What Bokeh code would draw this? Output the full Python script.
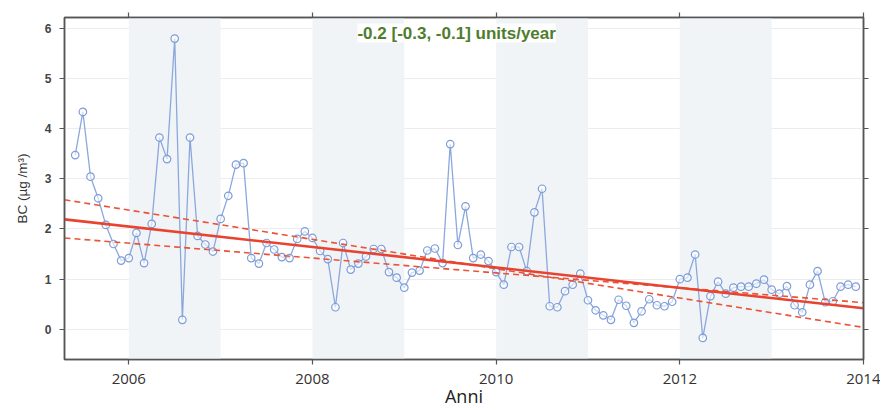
import numpy as np
from bokeh.plotting import figure
from bokeh.models import (Range1d, LinearAxis, FixedTicker, BoxAnnotation, Label)
from bokeh.embed import file_html
from bokeh.resources import INLINE

# ---- data (monthly BC, June 2005 .. December 2013) ----
start_year = 2005
start_month = 6  # June
bc_values = [
    3.47, 4.33, 3.04, 2.61, 2.08, 1.70, 1.37,
    1.42, 1.92, 1.32, 2.10, 3.82, 3.39, 5.79, 0.19, 3.82, 1.86, 1.69, 1.55,
    2.20, 2.66, 3.28, 3.31, 1.42, 1.31, 1.72, 1.59, 1.44, 1.42, 1.80, 1.95,
    1.82, 1.56, 1.40, 0.44, 1.72, 1.19, 1.31, 1.45, 1.60, 1.60, 1.14, 1.03,
    0.83, 1.13, 1.17, 1.57, 1.61, 1.32, 3.69, 1.68, 2.45, 1.42, 1.49, 1.36,
    1.14, 0.89, 1.64, 1.64, 1.16, 2.33, 2.80, 0.46, 0.44, 0.76, 0.89, 1.11,
    0.58, 0.38, 0.28, 0.19, 0.59, 0.47, 0.13, 0.36, 0.60, 0.48, 0.46, 0.55,
    1.00, 1.03, 1.49, -0.17, 0.66, 0.95, 0.71, 0.83, 0.85, 0.85, 0.91, 0.99,
    0.79, 0.71, 0.86, 0.48, 0.34, 0.89, 1.16, 0.54, 0.56, 0.85, 0.89, 0.85,
]
months = [start_year + (start_month - 1 + i) / 12.0 for i in range(len(bc_values))]

# Theil-Sen trend: value at start of axis and slopes (units/year)
trend_x = [2005.3, 2014.0]
trend_start = 2.19
trend_slope = -0.2034
ci_low_start, ci_low_slope = 2.58, -0.292     # steeper slope line
ci_high_start, ci_high_slope = 1.82, -0.148   # shallower slope line

shaded_years = [2006, 2008, 2010, 2012]
x_ticks = [2006, 2008, 2010, 2012, 2014]
y_ticks = [0, 1, 2, 3, 4, 5, 6]
trend_text = "-0.2 [-0.3, -0.1] units/year"

# ---- figure ----
p = figure(width=880, height=410, output_backend="svg", toolbar_location=None,
           x_range=Range1d(2005.3, 2014.0), y_range=Range1d(-0.6, 6.21),
           min_border_left=64, min_border_right=17, min_border_top=17,
           min_border_bottom=51)
p.background_fill_color = "white"
p.border_fill_color = "white"
p.outline_line_color = "#555555"
p.outline_line_width = 1.5

for yr in shaded_years:
    p.add_layout(BoxAnnotation(left=yr, right=yr + 1, fill_color="#f0f4f7",
                               fill_alpha=1.0, line_color=None, level="underlay"))

p.xgrid.grid_line_color = None
p.ygrid.ticker = FixedTicker(ticks=y_ticks)
p.ygrid.grid_line_color = "#ececec"
p.ygrid.grid_line_width = 1

axis_col = "#555555"

def style_axis(ax):
    ax.axis_line_color = axis_col
    ax.axis_line_width = 1.5
    ax.major_tick_line_color = axis_col
    ax.major_tick_line_width = 1.2
    ax.major_tick_in = 0
    ax.major_tick_out = 5
    ax.minor_tick_line_color = None

xa = p.xaxis[0]
xa.ticker = FixedTicker(ticks=x_ticks)
style_axis(xa)
xa.major_label_text_font = "Open Sans"
xa.major_label_text_font_size = "15px"
xa.major_label_text_color = "#333333"
xa.major_label_standoff = 9
xa.axis_label = "Anni"
xa.axis_label_text_font = "Open Sans"
xa.axis_label_text_font_size = "18px"
xa.axis_label_text_font_style = "normal"
xa.axis_label_text_color = "#222222"
xa.axis_label_standoff = -3

ya = p.yaxis[0]
ya.ticker = FixedTicker(ticks=y_ticks)
style_axis(ya)
ya.major_label_text_font = "Liberation Sans"
ya.major_label_text_font_size = "12px"
ya.major_label_text_font_style = "bold"
ya.major_label_text_color = "#444444"
ya.major_label_standoff = 8
ya.axis_label = "BC (µg /m³)"
ya.axis_label_text_font = "Liberation Sans"
ya.axis_label_text_font_size = "13.5px"
ya.axis_label_text_font_style = "normal"
ya.axis_label_text_color = "#333333"
ya.axis_label_standoff = 12

top_ax = LinearAxis(ticker=FixedTicker(ticks=x_ticks),
                    major_label_overrides={t: "" for t in x_ticks})
style_axis(top_ax)
p.add_layout(top_ax, "above")

right_ax = LinearAxis(ticker=FixedTicker(ticks=y_ticks),
                      major_label_overrides={t: "" for t in y_ticks})
style_axis(right_ax)
p.add_layout(right_ax, "right")

# data series
p.line(months, bc_values, line_color="#8ba7dd", line_width=1.3)
p.scatter(months, bc_values, size=7.5, fill_color="white", fill_alpha=0.6,
          line_color="#7d9cd8", line_width=1.2)

# trend lines
x0 = trend_x[0]
def tl(start, slope):
    return [start + slope * (x - x0) for x in trend_x]

p.line(trend_x, tl(ci_low_start, ci_low_slope), line_color="#ec5235",
       line_width=1.6, line_dash="6 4")
p.line(trend_x, tl(ci_high_start, ci_high_slope), line_color="#ec5235",
       line_width=1.6, line_dash="6 4")
p.line(trend_x, tl(trend_start, trend_slope), line_color="#e8432f", line_width=2.6)

p.add_layout(Label(x=2009.57, y=5.9, text=trend_text, text_align="center",
                   text_baseline="middle", text_font="Liberation Sans",
                   text_font_size="17px", text_font_style="bold",
                   text_color="#4f7d2c", background_fill_color="white",
                   background_fill_alpha=0.9))

open("out.html", "w").write(file_html(p, INLINE))
